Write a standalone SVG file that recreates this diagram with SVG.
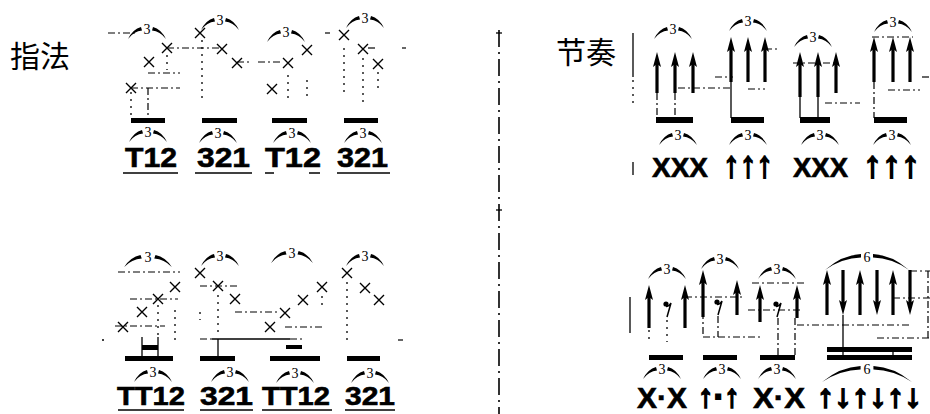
<svg xmlns="http://www.w3.org/2000/svg" width="930" height="414" viewBox="0 0 930 414">
<defs>
<style>
.title{font-family:"Noto Sans CJK SC","Noto Sans",sans-serif;font-size:30px;fill:#000}
.lb{font-family:"Liberation Sans","DejaVu Sans",sans-serif;font-weight:bold;fill:#000;stroke:#000;stroke-width:0.6}
.la{font-family:"Liberation Sans","DejaVu Sans",sans-serif;font-weight:bold;fill:#000;stroke:#000;stroke-width:1.8}
.n3{font-family:"Liberation Serif",serif;font-size:14px;text-anchor:middle;fill:#000}
.br{fill:#000;stroke:none}
.xm{stroke:#000;stroke-width:1.4;fill:none}
.bm{fill:#000}
.d{fill:none;stroke:#000;stroke-width:1.2;stroke-dasharray:7 3 2 3}
.dt{fill:none;stroke:#000;stroke-width:1.3;stroke-dasharray:2 5}
.ln{fill:none;stroke:#000;stroke-width:1.3}
.ar{stroke:#000;stroke-width:3.2;marker-end:url(#ah)}
.ul{stroke:#000;stroke-width:1.5}
.dv{fill:none;stroke:#000;stroke-width:1.6;stroke-dasharray:17 5 2 5}
</style>
<marker id="ah" markerUnits="userSpaceOnUse" markerWidth="16" markerHeight="10" refX="6" refY="5" orient="auto"><path d="M0,1 L15,5 L0,9 L3,5 z" fill="#000"/></marker>
<path id="arc3" d="M-19,9 Q-14,-1 -6,-3 L-5,0.5 Q-13,1 -19,9 Z M19,9 Q14,-1 6,-3 L5,0.5 Q13,1 19,9 Z"/>
<path id="arc6" d="M-42,12 Q-25,-3 -6,-4 L-6,-0.5 Q-25,0 -42,12 Z M42,12 Q25,-3 6,-4 L6,-0.5 Q25,0 42,12 Z"/>
<path id="x" d="M-5,-5 L5,5 M-5,5 L5,-5"/>
<g id="rest"><circle cx="-2" cy="2" r="2.6" fill="#000"/><path d="M-2,4.5 Q1,4.5 3,1 L-1,15" fill="none" stroke="#000" stroke-width="1.5"/></g>
</defs>
<rect width="930" height="414" fill="#fff"/>

<!-- titles -->
<g id="title-fingering"><text class="title" x="10" y="67">指法</text></g>
<g id="title-rhythm"><text class="title" x="556" y="63">节奏</text></g>

<!-- divider -->
<g id="divider"><line class="dv" x1="499" y1="30" x2="499" y2="414"/>
<line class="ln" x1="496" y1="33" x2="502" y2="33"/><line class="ln" x1="496" y1="210" x2="502" y2="210"/></g>

<!-- guide / connector lines -->
<g id="connectors">
 <!-- left top -->
 <line class="d" x1="108" y1="33" x2="135" y2="33"/>
 <line class="d" x1="167" y1="48" x2="222" y2="48"/>
 <line class="d" x1="237" y1="62" x2="252" y2="62"/>
 <line class="d" x1="148" y1="73" x2="180" y2="73"/>
 <line class="d" x1="131" y1="88" x2="180" y2="88"/>
 <line class="dt" x1="131" y1="92" x2="131" y2="118"/>
 <line class="d" x1="148" y1="88" x2="148" y2="118"/>
 <line class="dt" x1="202" y1="40" x2="202" y2="100"/>
 <line class="dt" x1="167" y1="55" x2="167" y2="70"/>
 <line class="d" x1="258" y1="62" x2="282" y2="62"/>
 <line class="dt" x1="288" y1="75" x2="288" y2="100"/>
 <line class="dt" x1="307" y1="80" x2="307" y2="100"/>
 <line class="d" x1="325" y1="33" x2="330" y2="33"/>
 <line class="dt" x1="344" y1="48" x2="344" y2="92"/>
 <line class="dt" x1="363" y1="58" x2="363" y2="105"/>
 <line class="d" x1="368" y1="48" x2="375" y2="48"/>
 <line class="d" x1="402" y1="48" x2="406" y2="48"/>
 <line class="dt" x1="378" y1="72" x2="378" y2="90"/>
 <!-- left bottom -->
 <line class="d" x1="118" y1="272" x2="180" y2="272"/>
 <line class="d" x1="130" y1="299" x2="178" y2="299"/>
 <line class="d" x1="115" y1="326" x2="165" y2="326"/>
 <line class="dt" x1="158" y1="305" x2="158" y2="336"/>
 <line class="dt" x1="175" y1="310" x2="175" y2="340"/>
 <line class="d" x1="200" y1="286" x2="238" y2="286"/>
 <line class="d" x1="235" y1="312" x2="280" y2="312"/>
 <line class="dt" x1="218" y1="295" x2="218" y2="336"/>
 <line class="dt" x1="200" y1="312" x2="200" y2="320"/>
 <line class="d" x1="200" y1="339" x2="212" y2="339"/>
 <line class="ln" x1="212" y1="339" x2="290" y2="339"/>
 <line class="ln" x1="218" y1="339" x2="218" y2="356"/>
 <line class="d" x1="290" y1="339" x2="305" y2="339"/>
 <line class="d" x1="285" y1="327" x2="322" y2="327"/>
 <line class="dt" x1="322" y1="296" x2="322" y2="306"/>
 <line class="dt" x1="347" y1="282" x2="347" y2="342"/>
 <line class="d" x1="398" y1="340" x2="403" y2="340"/>
 <line class="ln" x1="102" y1="340" x2="104" y2="340"/>
 <!-- right top -->
 <line class="ln" x1="633" y1="33" x2="633" y2="77"/>
 <line class="dt" x1="633" y1="80" x2="633" y2="103"/>
 <line class="ln" x1="633" y1="162" x2="633" y2="175"/>
 <line class="d" x1="657" y1="93" x2="657" y2="118"/>
 <line class="d" x1="675" y1="93" x2="675" y2="118"/>
 <line class="d" x1="678" y1="88" x2="732" y2="88"/>
 <line class="d" x1="715" y1="77" x2="733" y2="77"/>
 <line class="ln" x1="731" y1="80" x2="731" y2="118"/>
 <line class="d" x1="765" y1="49" x2="779" y2="49"/>
 <line class="d" x1="748" y1="89" x2="765" y2="89"/>
 <line class="d" x1="793" y1="63" x2="838" y2="63"/>
 <line class="ln" x1="800" y1="95" x2="800" y2="118"/>
 <line class="ln" x1="818" y1="95" x2="818" y2="118"/>
 <line class="d" x1="825" y1="103" x2="860" y2="103"/>
 <line class="d" x1="872" y1="37" x2="913" y2="37"/>
 <line class="d" x1="888" y1="90" x2="920" y2="90"/>
 <line class="d" x1="922" y1="77" x2="930" y2="77"/>
 <line class="d" x1="874" y1="82" x2="874" y2="118"/>
 <!-- right bottom -->
 <line class="ln" x1="630" y1="297" x2="630" y2="333"/>
 <line class="dt" x1="649" y1="330" x2="649" y2="342"/>
 <line class="dt" x1="667" y1="320" x2="667" y2="342"/>
 <line class="d" x1="685" y1="297" x2="743" y2="297"/>
 <line class="d" x1="703" y1="297" x2="703" y2="337"/>
 <line class="d" x1="718" y1="316" x2="718" y2="337"/>
 <line class="d" x1="703" y1="337" x2="763" y2="337"/>
 <line class="d" x1="752" y1="283" x2="805" y2="283"/>
 <line class="d" x1="748" y1="310" x2="802" y2="310"/>
 <line class="d" x1="778" y1="318" x2="778" y2="355"/>
 <line class="d" x1="795" y1="318" x2="795" y2="355"/>
 <line class="d" x1="797" y1="325" x2="912" y2="325"/>
 <line class="d" x1="877" y1="338" x2="930" y2="338"/>
 <line class="d" x1="910" y1="271" x2="930" y2="271"/>
 <line class="d" x1="893" y1="298" x2="930" y2="298"/>
 <line class="d" x1="928" y1="271" x2="928" y2="338"/>
 <line class="ln" x1="843" y1="315" x2="843" y2="360"/>
 <line class="ln" x1="893" y1="347" x2="893" y2="360"/>
</g>

<!-- ===== fingering, top row ===== -->
<g id="fA">
 <use href="#arc3" class="br" transform="translate(147,30)"/><text class="n3" x="147" y="34">3</text>
 <use href="#x" class="xm" x="167" y="48"/><use href="#x" class="xm" x="149" y="62"/><use href="#x" class="xm" x="131" y="88"/>
 <rect class="bm" x="131" y="118" width="34" height="5"/>
 <use href="#arc3" class="br" transform="translate(148,133)"/><text class="n3" x="148" y="137">3</text>
 <text class="lb" x="125" y="167" font-size="28" textLength="52" lengthAdjust="spacingAndGlyphs">T12</text>
 <line class="ul" x1="123" y1="173" x2="178" y2="173"/>
</g>
<g id="fB">
 <use href="#arc3" class="br" transform="translate(220,21)"/><text class="n3" x="220" y="25">3</text>
 <use href="#x" class="xm" x="200" y="33"/><use href="#x" class="xm" x="222" y="49"/><use href="#x" class="xm" x="237" y="63"/>
 <rect class="bm" x="202" y="118" width="35" height="5"/>
 <use href="#arc3" class="br" transform="translate(218,134)"/><text class="n3" x="218" y="138">3</text>
 <text class="lb" x="197" y="167" font-size="28" textLength="53" lengthAdjust="spacingAndGlyphs">321</text>
 <line class="ul" x1="195" y1="173" x2="252" y2="173"/>
</g>
<g id="fC">
 <use href="#arc3" class="br" transform="translate(286,33)"/><text class="n3" x="286" y="37">3</text>
 <use href="#x" class="xm" x="307" y="50"/><use href="#x" class="xm" x="288" y="63"/><use href="#x" class="xm" x="272" y="89"/>
 <rect class="bm" x="272" y="118" width="35" height="5"/>
 <use href="#arc3" class="br" transform="translate(292,134)"/><text class="n3" x="292" y="138">3</text>
 <text class="lb" x="265" y="167" font-size="28" textLength="56" lengthAdjust="spacingAndGlyphs">T12</text>
 <line class="ul" x1="265" y1="173" x2="274" y2="173"/><line class="ul" x1="309" y1="173" x2="320" y2="173"/>
</g>
<g id="fD">
 <use href="#arc3" class="br" transform="translate(365,19)"/><text class="n3" x="365" y="23">3</text>
 <use href="#x" class="xm" x="344" y="35"/><use href="#x" class="xm" x="363" y="49"/><use href="#x" class="xm" x="378" y="64"/>
 <rect class="bm" x="344" y="118" width="34" height="5"/>
 <use href="#arc3" class="br" transform="translate(363,134)"/><text class="n3" x="363" y="138">3</text>
 <text class="lb" x="337" y="167" font-size="28" textLength="51" lengthAdjust="spacingAndGlyphs">321</text>
 <line class="ul" x1="337" y1="173" x2="390" y2="173"/>
</g>

<!-- ===== fingering, bottom row ===== -->
<g id="fE">
 <use href="#arc3" class="br" transform="translate(148,258) scale(1.25,1)"/><text class="n3" x="148" y="262">3</text>
 <use href="#x" class="xm" x="123" y="327"/><use href="#x" class="xm" x="142" y="312"/><use href="#x" class="xm" x="158" y="299"/><use href="#x" class="xm" x="175" y="287"/>
 <line class="ln" x1="142" y1="337" x2="142" y2="356"/><line class="ln" x1="158" y1="337" x2="158" y2="356"/>
 <rect class="bm" x="142" y="345" width="16" height="5"/>
 <rect class="bm" x="125" y="356" width="48" height="5"/>
 <use href="#arc3" class="br" transform="translate(153,373)"/><text class="n3" x="153" y="377">3</text>
 <text class="lb" x="117" y="405" font-size="26" textLength="68" lengthAdjust="spacingAndGlyphs">TT12</text>
 <line class="ul" x1="118" y1="410" x2="184" y2="410"/>
</g>
<g id="fF">
 <use href="#arc3" class="br" transform="translate(220,257)"/><text class="n3" x="220" y="261">3</text>
 <use href="#x" class="xm" x="200" y="273"/><use href="#x" class="xm" x="218" y="286"/><use href="#x" class="xm" x="235" y="299"/>
 <rect class="bm" x="200" y="356" width="35" height="5"/>
 <use href="#arc3" class="br" transform="translate(230,373)"/><text class="n3" x="230" y="377">3</text>
 <text class="lb" x="200" y="405" font-size="26" textLength="53" lengthAdjust="spacingAndGlyphs">321</text>
 <line class="ul" x1="200" y1="410" x2="253" y2="410"/>
</g>
<g id="fG">
 <use href="#arc3" class="br" transform="translate(292,254) scale(1.1,1)"/><text class="n3" x="292" y="258">3</text>
 <use href="#x" class="xm" x="270" y="327"/><use href="#x" class="xm" x="285" y="313"/><use href="#x" class="xm" x="303" y="300"/><use href="#x" class="xm" x="322" y="287"/>
 <rect class="bm" x="286" y="345" width="16" height="4"/>
 <rect class="bm" x="270" y="356" width="50" height="5"/>
 <use href="#arc3" class="br" transform="translate(295,374)"/><text class="n3" x="295" y="378">3</text>
 <text class="lb" x="262" y="405" font-size="26" textLength="68" lengthAdjust="spacingAndGlyphs">TT12</text>
 <line class="ul" x1="262" y1="410" x2="332" y2="410"/>
</g>
<g id="fH">
 <use href="#arc3" class="br" transform="translate(365,257)"/><text class="n3" x="365" y="261">3</text>
 <use href="#x" class="xm" x="347" y="273"/><use href="#x" class="xm" x="365" y="288"/><use href="#x" class="xm" x="379" y="300"/>
 <rect class="bm" x="347" y="356" width="33" height="5"/>
 <use href="#arc3" class="br" transform="translate(370,374)"/><text class="n3" x="370" y="378">3</text>
 <text class="lb" x="345" y="405" font-size="26" textLength="50" lengthAdjust="spacingAndGlyphs">321</text>
 <line class="ul" x1="345" y1="410" x2="395" y2="410"/>
</g>

<!-- ===== rhythm, top row ===== -->
<g id="r1">
 <use href="#arc3" class="br" transform="translate(673,30)"/><text class="n3" x="673" y="34">3</text>
 <line class="ar" x1="657" y1="93" x2="657" y2="61"/><line class="ar" x1="675" y1="93" x2="675" y2="61"/><line class="ar" x1="693" y1="93" x2="693" y2="61"/>
 <rect class="bm" x="656" y="117" width="37" height="6"/>
 <use href="#arc3" class="br" transform="translate(678,136)"/><text class="n3" x="678" y="140">3</text>
 <text class="lb" x="652" y="177" font-size="28" textLength="56" lengthAdjust="spacingAndGlyphs">XXX</text>
</g>
<g id="r2">
 <use href="#arc3" class="br" transform="translate(748,22)"/><text class="n3" x="748" y="26">3</text>
 <line class="ar" x1="731" y1="82" x2="731" y2="46"/><line class="ar" x1="748" y1="82" x2="748" y2="46"/><line class="ar" x1="765" y1="82" x2="765" y2="46"/>
 <rect class="bm" x="731" y="117" width="33" height="6"/>
 <use href="#arc3" class="br" transform="translate(748,136)"/><text class="n3" x="748" y="140">3</text>
 <text class="la" x="723" y="177" font-size="37" textLength="50" lengthAdjust="spacingAndGlyphs">↑↑↑</text>
</g>
<g id="r3">
 <use href="#arc3" class="br" transform="translate(813,38)"/><text class="n3" x="813" y="42">3</text>
 <line class="ar" x1="800" y1="97" x2="800" y2="61"/><line class="ar" x1="818" y1="97" x2="818" y2="61"/><line class="ar" x1="836" y1="93" x2="836" y2="61"/>
 <rect class="bm" x="800" y="117" width="30" height="6"/>
 <use href="#arc3" class="br" transform="translate(820,136)"/><text class="n3" x="820" y="140">3</text>
 <text class="lb" x="793" y="177" font-size="28" textLength="55" lengthAdjust="spacingAndGlyphs">XXX</text>
</g>
<g id="r4">
 <use href="#arc3" class="br" transform="translate(893,23)"/><text class="n3" x="893" y="27">3</text>
 <line class="ar" x1="874" y1="82" x2="874" y2="46"/><line class="ar" x1="893" y1="82" x2="893" y2="46"/><line class="ar" x1="910" y1="82" x2="910" y2="46"/>
 <rect class="bm" x="874" y="117" width="33" height="6"/>
 <use href="#arc3" class="br" transform="translate(892,136)"/><text class="n3" x="892" y="140">3</text>
 <text class="la" x="863" y="177" font-size="37" textLength="57" lengthAdjust="spacingAndGlyphs">↑↑↑</text>
</g>

<!-- ===== rhythm, bottom row ===== -->
<g id="s1">
 <use href="#arc3" class="br" transform="translate(667,270)"/><text class="n3" x="667" y="274">3</text>
 <line class="ar" x1="649" y1="328" x2="649" y2="294"/><line class="ar" x1="685" y1="328" x2="685" y2="294"/>
 <use href="#rest" x="668" y="302"/>
 <rect class="bm" x="649" y="355" width="34" height="5"/>
 <use href="#arc3" class="br" transform="translate(662,370)"/><text class="n3" x="662" y="374">3</text>
 <text class="lb" x="637" y="408" font-size="29" textLength="50" lengthAdjust="spacingAndGlyphs">X·X</text>
</g>
<g id="s2">
 <use href="#arc3" class="br" transform="translate(720,260)"/><text class="n3" x="720" y="264">3</text>
 <line class="ar" x1="703" y1="317" x2="703" y2="279"/><line class="ar" x1="737" y1="315" x2="737" y2="289"/>
 <use href="#rest" x="719" y="300"/>
 <rect class="bm" x="703" y="355" width="34" height="5"/>
 <use href="#arc3" class="br" transform="translate(722,370)"/><text class="n3" x="722" y="374">3</text>
 <text class="la" x="698" y="407" font-size="32" textLength="42" lengthAdjust="spacingAndGlyphs">↑·↑</text>
</g>
<g id="s3">
 <use href="#arc3" class="br" transform="translate(777,270)"/><text class="n3" x="777" y="274">3</text>
 <line class="ar" x1="760" y1="322" x2="760" y2="294"/><line class="ar" x1="797" y1="318" x2="797" y2="294"/>
 <use href="#rest" x="778" y="302"/>
 <rect class="bm" x="760" y="355" width="35" height="5"/>
 <use href="#arc3" class="br" transform="translate(777,370)"/><text class="n3" x="777" y="374">3</text>
 <text class="lb" x="753" y="408" font-size="29" textLength="52" lengthAdjust="spacingAndGlyphs">X·X</text>
</g>
<g id="s6">
 <use href="#arc6" class="br" transform="translate(867,258)"/><text class="n3" x="867" y="262">6</text>
 <line class="ar" x1="827" y1="315" x2="827" y2="279"/>
 <line class="ar" x1="843" y1="270" x2="843" y2="306"/>
 <line class="ar" x1="860" y1="315" x2="860" y2="279"/>
 <line class="ar" x1="877" y1="270" x2="877" y2="306"/>
 <line class="ar" x1="893" y1="315" x2="893" y2="279"/>
 <line class="ar" x1="910" y1="270" x2="910" y2="306"/>
 <rect class="bm" x="827" y="347" width="85" height="5"/>
 <rect class="bm" x="827" y="355" width="85" height="5"/>
 <use href="#arc6" class="br" transform="translate(867,370) scale(1.07,1)"/><text class="n3" x="867" y="374">6</text>
 <text class="la" x="817" y="407" font-size="32" textLength="105" lengthAdjust="spacingAndGlyphs">↑↓↑↓↑↓</text>
</g>
</svg>
